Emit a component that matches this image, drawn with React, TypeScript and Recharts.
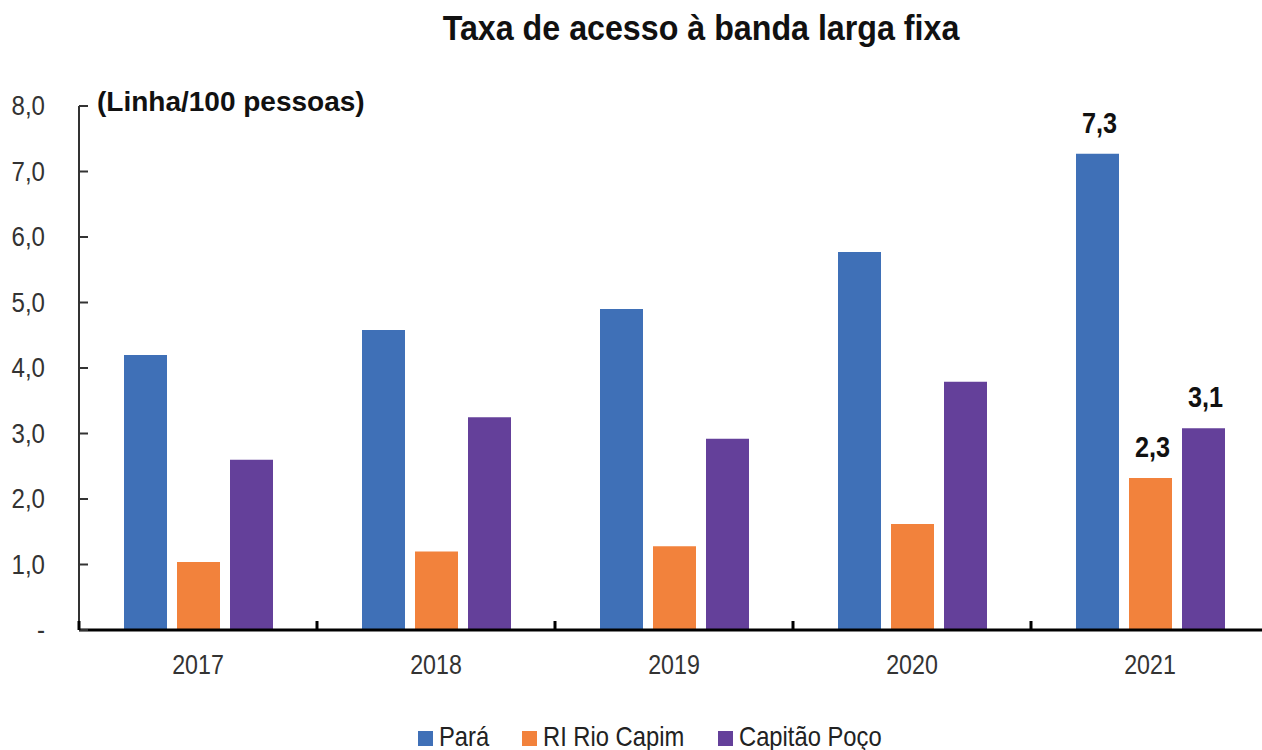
import React from "react";
import { BarChart, Bar, XAxis, YAxis, Legend } from "recharts";

const years = ["2017", "2018", "2019", "2020", "2021"];
const para = [4.2, 4.58, 4.9, 5.77, 7.27];
const rioCapim = [1.04, 1.2, 1.28, 1.62, 2.32];
const capitaoPoco = [2.6, 3.25, 2.92, 3.79, 3.08];
const yTicks = [0, 1, 2, 3, 4, 5, 6, 7, 8];

const SERIES = [
  { key: "para", name: "Pará", color: "#3F70B7" },
  { key: "rio", name: "RI Rio Capim", color: "#F2823C" },
  { key: "poco", name: "Capitão Poço", color: "#64409A" },
];

const data = years.map((y, i) => ({
  year: y,
  para: para[i],
  rio: rioCapim[i],
  poco: capitaoPoco[i],
}));

const FONT = "'Liberation Sans', Arial, sans-serif";
const W = 1270;
const H = 750;
const LEFT = 79;
const RIGHT = 1;
const BAND = (W - LEFT - RIGHT) / years.length;

const fmt = (v: number) => (v === 0 ? "-" : v.toFixed(1).replace(".", ","));

// the original uses a condensed face, so squeeze horizontally
function NText(props: any) {
  const { x, y, sx = 0.86, children, ...rest } = props;
  return (
    <text transform={`translate(${x},${y}) scale(${sx},1)`} x={0} y={0} fontFamily={FONT} {...rest}>
      {children}
    </text>
  );
}

function YTick(props: any) {
  const { y, payload } = props;
  return (
    <g>
      <line x1={LEFT} x2={LEFT + 9} y1={y} y2={y} stroke="#333" strokeWidth={2} />
      <NText x={45} y={y + 9} textAnchor="end" fontSize={28} fill="#333">
        {fmt(payload.value)}
      </NText>
    </g>
  );
}

function XTick(props: any) {
  const { x, payload } = props;
  const bx = x - BAND / 2;
  return (
    <g>
      <line x1={bx} x2={bx} y1={630} y2={621} stroke="#000" strokeWidth={3} />
      <NText x={x} y={674} textAnchor="middle" fontSize={27} fill="#333">
        {payload.value}
      </NText>
    </g>
  );
}

function lastLabel(props: any) {
  const { x, y, width, value, index } = props;
  if (index !== years.length - 1) return null;
  return (
    <NText
      x={x + width / 2 + 2}
      y={y - 21}
      sx={0.87}
      textAnchor="middle"
      fontSize={29}
      fontWeight="bold"
      fill="#111"
    >
      {fmt(Math.round(value * 10) / 10)}
    </NText>
  );
}

const LEGEND_X = [418, 522, 718];

function LegendBox() {
  return (
    <svg width={W} height={60} style={{ display: "block", overflow: "visible" }}>
      {SERIES.map((s, i) => (
        <g key={s.key}>
          <rect x={LEGEND_X[i]} y={41} width={15} height={15} fill={s.color} />
          <NText x={LEGEND_X[i] + 21} y={56} sx={0.88} fontSize={27} fill="#222">
            {s.name}
          </NText>
        </g>
      ))}
    </svg>
  );
}

export default function App() {
  return (
    <div style={{ position: "absolute", left: 0, top: 0, width: 1262, height: 750, overflow: "hidden", background: "#fff" }}>
      <div
        style={{
          position: "absolute",
          left: 0,
          width: 1402,
          top: 8,
          textAlign: "center",
          fontFamily: FONT,
          fontWeight: "bold",
          fontSize: 35,
          color: "#111",
          lineHeight: "40px",
          transform: "scaleX(0.92)",
          transformOrigin: "701px 0",
          zIndex: 2,
        }}
      >
        Taxa de acesso à banda larga fixa
      </div>
      <div
        style={{
          position: "absolute",
          left: 97,
          top: 86,
          fontFamily: FONT,
          fontWeight: "bold",
          fontSize: 28,
          color: "#111",
          lineHeight: "32px",
          zIndex: 2,
        }}
      >
        (Linha/100 pessoas)
      </div>
      <BarChart
        width={W}
        height={H}
        data={data}
        margin={{ top: 106, right: RIGHT, bottom: 0, left: 0 }}
        barCategoryGap={45}
        barGap={10}
      >
        <YAxis
          width={LEFT}
          domain={[0, 8]}
          ticks={yTicks}
          interval={0}
          axisLine={{ stroke: "#333", strokeWidth: 2 }}
          tickLine={false}
          tick={<YTick />}
        />
        <XAxis
          dataKey="year"
          height={60}
          axisLine={{ stroke: "#000", strokeWidth: 3 }}
          tickLine={false}
          tick={<XTick />}
          interval={0}
        />
        <Legend verticalAlign="bottom" height={60} content={<LegendBox />} />
        {SERIES.map((s) => (
          <Bar
            key={s.key}
            dataKey={s.key}
            name={s.name}
            fill={s.color}
            isAnimationActive={false}
            label={lastLabel}
          />
        ))}
      </BarChart>
    </div>
  );
}
